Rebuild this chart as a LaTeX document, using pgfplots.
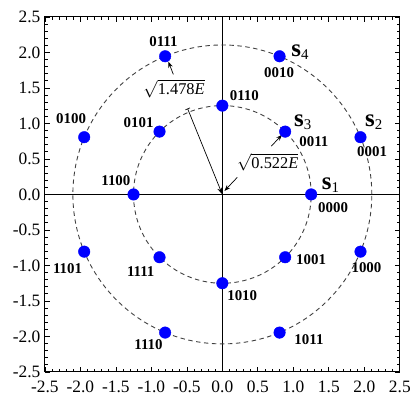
\documentclass[border=0pt]{standalone}
\usepackage{fontspec}
\setmainfont{Liberation Serif}
\usepackage{pgfplots}
\pgfplotsset{compat=1.18}
\usetikzlibrary{arrows.meta}
\definecolor{ptblue}{RGB}{0,0,255}
\begin{document}
\begin{tikzpicture}
\begin{axis}[
  scale only axis, width=356bp, height=356bp,
  xmin=-2.5, xmax=2.5, ymin=-2.5, ymax=2.5,
  xtick={-2.5,-2.0,-1.5,-1.0,-0.5,0,0.5,1.0,1.5,2.0,2.5},
  ytick={-2.5,-2.0,-1.5,-1.0,-0.5,0,0.5,1.0,1.5,2.0,2.5},
  minor tick num=4,
  tick align=inside,
  xtick pos=both, ytick pos=both,
  xticklabel pos=left, yticklabel pos=left,
  major tick length=5bp, minor tick length=3bp,
  ticklabel style={font=\fontsize{17.5}{19}\selectfont},
  xticklabel style={yshift=-6bp},
  yticklabel style={xshift=-1bp},
  /pgf/number format/fixed, /pgf/number format/fixed zerofill,
  /pgf/number format/precision=1, /pgf/number format/assume math mode=true,
  axis line style={line width=1pt},
  every tick/.style={black, line width=0.7pt},
  clip=false,
]
% axes through origin
\draw[black, line width=0.9pt] (axis cs:-2.5,0) -- (axis cs:2.5,0);
\draw[black, line width=0.9pt] (axis cs:0,-2.5) -- (axis cs:0,2.5);
% circles (radius 2.106 and 1.251 in axis units, 71.2bp per unit)
\draw[black!75, line width=0.9pt, dash pattern=on 4.5bp off 3.5bp] (axis cs:0,0) circle[radius=149.9bp];
\draw[black!75, line width=0.9pt, dash pattern=on 4.5bp off 3.5bp] (axis cs:0,0) circle[radius=89.1bp];
% constellation points
\addplot[only marks, mark=*, mark size=5.8bp, ptblue, mark options={fill=ptblue, draw=ptblue}] coordinates {
  (1.251,0) (0.885,0.885) (0,1.251) (-0.885,0.885) (-1.251,0) (-0.885,-0.885) (0,-1.251) (0.885,-0.885)
  (1.946,0.806) (0.806,1.946) (-0.806,1.946) (-1.946,0.806) (-1.946,-0.806) (-0.806,-1.946) (0.806,-1.946) (1.946,-0.806)
};
% arrows
\draw[black, line width=0.7pt, {Bar[width=5bp]}-{Stealth[length=7bp,width=5bp]}] (axis cs:-0.49,1.21) -- (axis cs:0,0.0);
\draw[black, line width=0.7pt, -{Stealth[length=6bp,width=4.5bp]}] (axis cs:0.21,0.24) -- (axis cs:0.03,0.05);
\draw[black, line width=0.7pt, -{Stealth[length=6bp,width=4.5bp]}] (axis cs:-0.69,1.69) -- (axis cs:-0.76,1.87);
\draw[black, line width=0.7pt, -{Stealth[length=6bp,width=4.5bp]}] (axis cs:0.69,0.68) -- (axis cs:0.84,0.84);
% sqrt labels
\node[font=\fontsize{16.5}{18}\selectfont, fill=white, inner sep=1bp] at (axis cs:-0.68,1.49) {$\sqrt{\mbox{1.478\textit{E}}}$};
\node[font=\fontsize{16.5}{18}\selectfont, inner sep=1bp] at (axis cs:0.64,0.45) {$\sqrt{\mbox{0.522\textit{E}}}$};
% s labels
\node[anchor=base west, inner sep=0pt, font=\fontsize{25}{27}\selectfont] at (axis cs:1.40,0.07) {\textbf{s}\raisebox{-0.25ex}{\fontsize{15}{16}\selectfont 1}};
\node[anchor=base west, inner sep=0pt, font=\fontsize{25}{27}\selectfont] at (axis cs:2.01,0.96) {\textbf{s}\raisebox{-0.25ex}{\fontsize{15}{16}\selectfont 2}};
\node[anchor=base west, inner sep=0pt, font=\fontsize{25}{27}\selectfont] at (axis cs:1.01,0.96) {\textbf{s}\raisebox{-0.25ex}{\fontsize{15}{16}\selectfont 3}};
\node[anchor=base west, inner sep=0pt, font=\fontsize{25}{27}\selectfont] at (axis cs:0.97,1.94) {\textbf{s}\raisebox{-0.25ex}{\fontsize{15}{16}\selectfont 4}};
% bit labels
\tikzset{bl/.style={font=\bfseries\fontsize{15}{17}\selectfont, inner sep=0pt}}
\node[bl] at (axis cs:-0.83,2.15) {0111};
\node[bl] at (axis cs:-2.13,1.07) {0100};
\node[bl] at (axis cs:-1.18,1.01) {0101};
\node[bl] at (axis cs:-1.50,0.19) {1100};
\node[bl] at (axis cs:0.80,1.72) {0010};
\node[bl] at (axis cs:0.31,1.39) {0110};
\node[bl] at (axis cs:1.29,0.75) {0011};
\node[bl] at (axis cs:2.11,0.60) {0001};
\node[bl] at (axis cs:1.56,-0.18) {0000};
\node[bl] at (axis cs:1.25,-0.92) {1001};
\node[bl] at (axis cs:2.03,-1.03) {1000};
\node[bl] at (axis cs:0.28,-1.42) {1010};
\node[bl] at (axis cs:1.22,-2.04) {1011};
\node[bl] at (axis cs:-2.18,-1.05) {1101};
\node[bl] at (axis cs:-1.15,-1.08) {1111};
\node[bl] at (axis cs:-1.04,-2.11) {1110};
\end{axis}
\path (-45bp,-30bp) rectangle (368bp,373bp);
\end{tikzpicture}
\end{document}
